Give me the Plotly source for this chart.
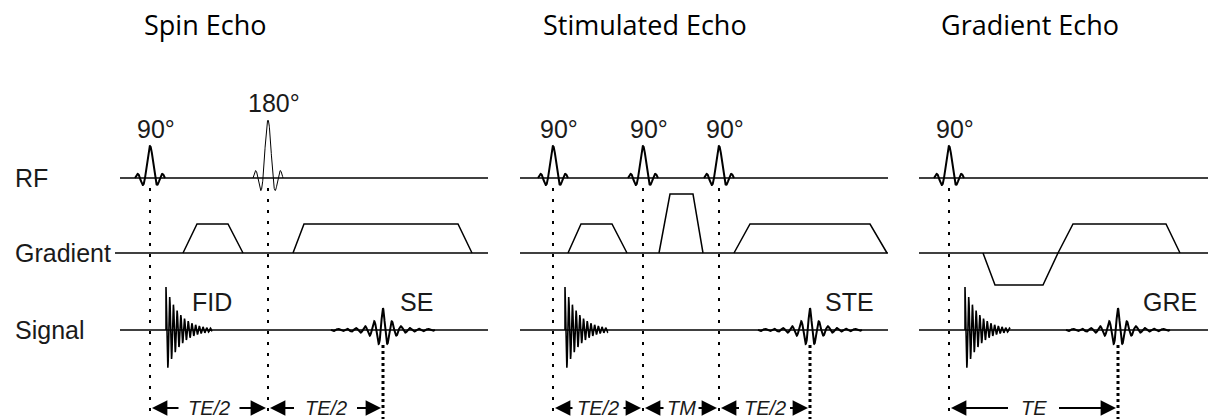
import numpy as np
import plotly.graph_objects as go

W, H = 1208, 419

# ---- rows (channels) ----
ROW_NAMES = ["RF", "Gradient", "Signal"]
ROW_Y = [178, 253, 330]
ROW_LABEL_X = 13

# ---- panels ----
PANEL_TITLES = ["Spin Echo", "Stimulated Echo", "Gradient Echo"]
PANEL_TITLE_X = [205, 645, 1030]
PANEL_START = [120, 520, 919]
PANEL_END = [488, 888, 1208]
GRAD_START = [115, 520, 919]

# ---- RF pulses ----
RF_X = [150, 268, 553, 643, 719, 949]
RF_FLIP = [90, 180, 90, 90, 90, 90]
RF_AMP = [32, 58, 32, 32, 32, 32]
RF_HALFWIDTH = 15

# ---- gradient lobes ----
GRAD_T = [[183, 197, 228, 243], [293, 304, 458, 472],
          [568, 581, 612, 627], [659, 670, 693, 703], [734, 750, 870, 887],
          [983, 995, 1043, 1058, 1073, 1166, 1180]]
GRAD_A = [[0, 29, 29, 0], [0, 29, 29, 0],
          [0, 29, 29, 0], [0, 59, 59, 0], [0, 29, 29, 0],
          [0, -32, -32, 0, 29, 29, 0]]

# ---- FID and echoes ----
FID_T0 = [166, 565, 965]
FID_LEN = [46, 43, 45]
FID_AMP = 43
FID_PERIOD = 3.7
FID_DECAY = 14
FID_LABEL_X = [212]
FID_LABEL = ["FID"]

ECHO_X = [383, 810, 1118]
ECHO_NAMES = ["SE", "STE", "GRE"]
ECHO_LABEL_X = [416, 849, 1170]
ECHO_AMP = 21
ECHO_PERIOD = 9
ECHO_DECAY = 9
ECHO_HALFLEN = 52
SIGNAL_LABEL_Y = 302

# ---- timing annotations ----
TIMING_LABELS = ["TE/2", "TE/2", "TE/2", "TM", "TE/2", "TE"]
TIMING_START = [150, 268, 553, 643, 719, 949]
TIMING_END = [268, 383, 643, 719, 810, 1118]
TIMING_GAP = [29, 30, 24, 16, 24, 24]
TIMING_Y = 408

LINE = "#000000"
fig = go.Figure()


def add_line(x, y, width=1.5, dash=None, color=LINE):
    fig.add_trace(go.Scatter(x=x, y=y, mode="lines",
                             line=dict(color=color, width=width, dash=dash),
                             hoverinfo="skip", showlegend=False))


# baselines
for p in range(3):
    add_line([PANEL_START[p], PANEL_END[p]], [ROW_Y[0]] * 2)
    add_line([GRAD_START[p], PANEL_END[p]], [ROW_Y[1]] * 2)
    add_line([PANEL_START[p], PANEL_END[p]], [ROW_Y[2]] * 2)

# dotted timing lines from RF pulses
for x in RF_X:
    add_line([x, x], [188, 416], width=2, dash="3px,8px")
# thick dotted at echo centres
for x in ECHO_X:
    add_line([x, x], [345, 419], width=3, dash="3px,3px")

# RF pulses (sinc)
for x0, amp, flip in zip(RF_X, RF_AMP, RF_FLIP):
    u = np.linspace(-1, 1, 301)
    xs = x0 + u * RF_HALFWIDTH
    ys = ROW_Y[0] - amp * np.sinc(3 * u)
    add_line(xs, ys, width=1 if flip == 180 else 2)

# gradient lobes
for t, a in zip(GRAD_T, GRAD_A):
    add_line(t, [ROW_Y[1] - v for v in a], width=1.5)

# FIDs
for t0, L in zip(FID_T0, FID_LEN):
    t = np.arange(0, L, 0.05)
    ys = ROW_Y[2] - FID_AMP * np.exp(-t / FID_DECAY) * np.cos(2 * np.pi * t / FID_PERIOD)
    add_line(np.concatenate([[t0], t0 + t]), np.concatenate([[ROW_Y[2]], ys]), width=1.6)

# echoes
for xc in ECHO_X:
    t = np.arange(-ECHO_HALFLEN, ECHO_HALFLEN, 0.1)
    env = ECHO_AMP * np.exp(-np.abs(t) / ECHO_DECAY) + 0.9
    ys = ROW_Y[2] - env * np.cos(2 * np.pi * t / ECHO_PERIOD)
    add_line(xc + t, ys, width=2)

# ---- text ----
ann = []
TF = dict(family="Open Sans", size=27, color="#000")
LF = dict(family="Liberation Sans, Arial", size=25, color="#1a1a1a")
for title, x in zip(PANEL_TITLES, PANEL_TITLE_X):
    ann.append(dict(x=x, y=24, text=title, showarrow=False, font=TF,
                    xanchor="center", yanchor="middle"))
for name, y in zip(ROW_NAMES, ROW_Y):
    ann.append(dict(x=ROW_LABEL_X, y=y, text=name, showarrow=False, font=LF,
                    xanchor="left", yanchor="middle"))
for x0, amp, flip in zip(RF_X, RF_AMP, RF_FLIP):
    ann.append(dict(x=x0 + 6, y=ROW_Y[0] - amp - 17, text=f"{flip}°", showarrow=False,
                    font=LF, xanchor="center", yanchor="middle"))
for name, x in zip(FID_LABEL, FID_LABEL_X):
    ann.append(dict(x=x, y=SIGNAL_LABEL_Y, text=name, showarrow=False, font=LF,
                    xanchor="center", yanchor="middle"))
for name, x in zip(ECHO_NAMES, ECHO_LABEL_X):
    ann.append(dict(x=x, y=SIGNAL_LABEL_Y, text=name, showarrow=False, font=LF,
                    xanchor="center", yanchor="middle"))

AF = dict(family="Liberation Sans, Arial", size=20, color="#1a1a1a")
for lab, s, e, g in zip(TIMING_LABELS, TIMING_START, TIMING_END, TIMING_GAP):
    c = (s + e) / 2
    ann.append(dict(x=c, y=TIMING_Y, text=f"<i>{lab}</i>", showarrow=False, font=AF,
                    xanchor="center", yanchor="middle"))
    for head, tail in ((s + 2, c - g), (e - 2, c + g)):
        ann.append(dict(x=head, y=TIMING_Y, ax=tail, ay=TIMING_Y, axref="x", ayref="y",
                        xref="x", yref="y", text="", showarrow=True, arrowhead=2,
                        arrowsize=1.4, arrowwidth=2.2, arrowcolor="#000", standoff=0,
                        startstandoff=0))

fig.update_layout(
    width=W, height=H, margin=dict(l=0, r=0, t=0, b=0),
    paper_bgcolor="white", plot_bgcolor="white",
    xaxis=dict(range=[0, W], visible=False, fixedrange=True),
    yaxis=dict(range=[H, 0], visible=False, fixedrange=True),
    annotations=ann, showlegend=False,
)
fig.write_html("out.html")
